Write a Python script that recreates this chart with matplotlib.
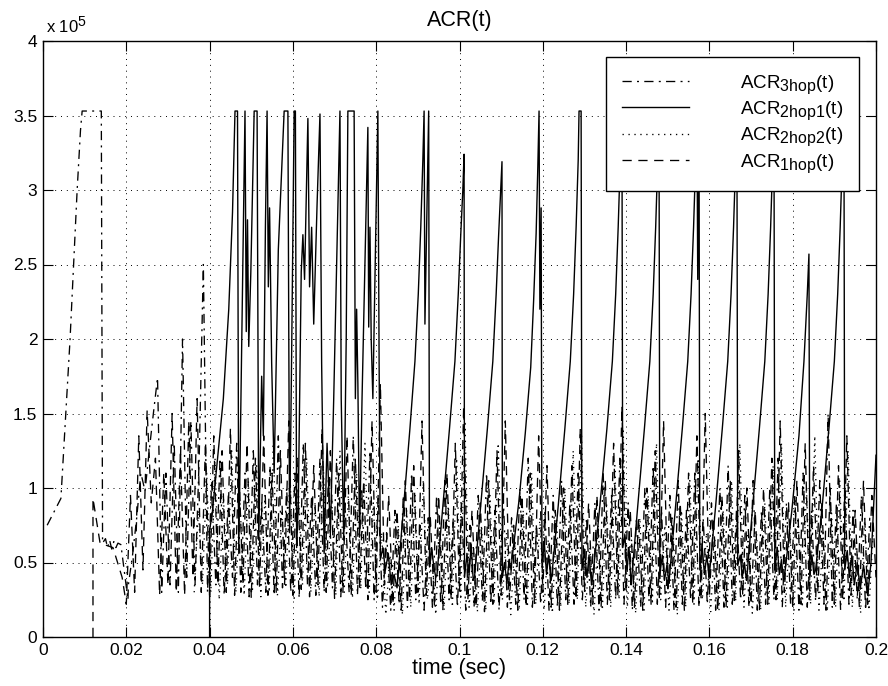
import numpy as np
import matplotlib
matplotlib.use("Agg")
import matplotlib.pyplot as plt
from matplotlib.ticker import FuncFormatter
import matplotlib._mathtext as _mt

_mt.SHRINK_FACTOR = 0.85  # larger sub/superscripts, as in the reference

plt.rcParams['font.family'] = ['Liberation Sans', 'DejaVu Sans']
plt.rcParams['mathtext.fontset'] = 'custom'
plt.rcParams['mathtext.rm'] = 'Liberation Sans'
plt.rcParams['mathtext.it'] = 'Liberation Sans:italic'

# ---------------- data (values in units of 1e5) ----------------
x_ticks = [0, 0.02, 0.04, 0.06, 0.08, 0.1, 0.12, 0.14, 0.16, 0.18, 0.2]
y_ticks = [0, 0.5, 1, 1.5, 2, 2.5, 3, 3.5, 4]
labels = [r'ACR$_{\mathrm{3hop}}$(t)', r'ACR$_{\mathrm{2hop1}}$(t)',
          r'ACR$_{\mathrm{2hop2}}$(t)', r'ACR$_{\mathrm{1hop}}$(t)']

# ACR_3hop : early explicit part
acr3hop_early_t = [0.0010, 0.0043, 0.0065, 0.0082, 0.0090, 0.0094, 0.0140, 0.0143,
                   0.0150, 0.0155, 0.0160, 0.0165, 0.0170, 0.0175, 0.0180, 0.0187, 0.0204]
acr3hop_early_v = [0.75, 0.93, 2.00, 3.00, 3.40, 3.53, 3.53, 0.63,
                   0.66, 0.60, 0.65, 0.59, 0.64, 0.60, 0.63, 0.62, 0.25]
# ACR_3hop : sampled every 1 ms starting at 20.5 ms
acr3hop_start = 0.0205
acr3hop_v = [0.35, 0.55, 0.80, 1.10, 0.98, 1.25, 1.50, 1.74, 0.30,
             1.10, 0.35, 1.30, 0.30, 2.00, 0.40, 1.45, 0.35, 1.20, 2.50,
             0.30, 1.05, 0.35, 1.20, 0.28, 0.95, 0.40, 1.30, 0.30, 1.10,
             0.27, 1.25, 0.35, 0.90, 0.30, 1.15, 0.28, 1.35, 0.33, 1.00,
             0.30, 1.10, 0.26, 1.30, 0.35, 0.95, 0.28, 1.20, 0.30, 1.05,
             0.33, 1.20, 0.27, 0.90, 0.30, 1.35, 0.28, 1.00, 0.32, 1.25,
             0.25, 0.95, 0.20, 0.70, 0.18, 0.85, 0.22, 0.95, 0.20, 1.10,
             0.25, 0.75, 0.18, 0.80, 0.20, 0.95, 0.22, 1.05, 0.25, 0.80,
             0.20, 0.90, 0.18, 0.75, 0.20, 0.95, 0.24, 1.10, 0.22, 0.85,
             0.18, 0.95, 0.20, 0.80, 0.22, 1.00, 0.25, 1.20, 0.20, 0.75,
             0.22, 0.85, 0.18, 0.95, 0.20, 1.05, 0.25, 0.90, 0.22, 1.10,
             0.25, 0.80, 0.20, 0.90, 0.18, 1.10, 0.22, 0.95, 0.25, 1.20,
             0.22, 0.90, 0.18, 0.80, 0.20, 1.00, 0.24, 1.15, 0.22, 0.85,
             0.20, 0.95, 0.18, 1.05, 0.22, 0.85, 0.25, 1.10, 0.20, 0.80,
             0.22, 0.90, 0.18, 1.00, 0.20, 1.15, 0.22, 0.85, 0.25, 0.95,
             0.20, 1.05, 0.18, 0.85, 0.22, 1.00, 0.25, 1.20, 0.20, 0.90,
             0.22, 0.95, 0.18, 1.10, 0.20, 0.85, 0.24, 1.05, 0.22, 1.50,
             0.20, 0.90, 0.18, 1.00, 0.22, 0.85, 0.25, 0.95, 0.18, 0.80]

# ACR_1hop : early explicit part
acr1hop_early_t = [0.0120, 0.0120, 0.0137, 0.0168, 0.0190, 0.0200]
acr1hop_early_v = [0.00, 0.93, 0.63, 0.60, 0.40, 0.22]
# ACR_1hop : sampled every 1 ms starting at 21 ms
acr1hop_start = 0.021
acr1hop_v = [0.95, 0.30, 1.35, 0.45, 1.52, 0.90, 1.20, 0.28, 1.10,
             0.35, 1.50, 0.30, 1.25, 0.28, 1.45, 0.40, 1.60, 0.30, 1.30,
             0.28, 1.35, 0.35, 1.25, 0.30, 1.40, 0.28, 1.15, 0.35, 1.30,
             0.26, 1.20, 0.33, 1.35, 0.28, 1.10, 0.30, 1.25, 0.35, 1.45,
             0.28, 1.20, 0.32, 1.30, 0.27, 1.15, 0.35, 1.40, 0.30, 1.25,
             0.26, 1.10, 0.30, 1.35, 0.28, 1.20, 0.32, 1.05, 0.25, 1.45,
             0.30, 1.70, 0.35, 0.95, 0.22, 0.85, 0.18, 1.05, 0.25, 1.15,
             0.30, 1.45, 0.28, 0.80, 0.20, 0.95, 0.18, 1.10, 0.25, 1.30,
             0.30, 1.55, 0.25, 0.85, 0.20, 0.90, 0.17, 1.05, 0.22, 1.25,
             0.28, 1.45, 0.25, 0.75, 0.18, 0.95, 0.20, 1.10, 0.22, 1.35,
             0.30, 1.15, 0.20, 0.85, 0.18, 1.00, 0.22, 1.15, 0.25, 1.40,
             0.30, 0.90, 0.22, 0.95, 0.20, 1.05, 0.25, 1.30, 0.28, 1.55,
             0.30, 0.85, 0.20, 0.80, 0.18, 1.00, 0.22, 1.25, 0.25, 1.45,
             0.30, 0.80, 0.20, 0.90, 0.17, 1.10, 0.22, 1.35, 0.25, 1.50,
             0.28, 0.80, 0.18, 0.95, 0.20, 1.05, 0.22, 1.25, 0.28, 1.00,
             0.22, 0.85, 0.18, 1.00, 0.22, 1.20, 0.25, 1.45, 0.30, 0.90,
             0.20, 1.05, 0.22, 1.30, 0.25, 1.15, 0.30, 0.90, 0.18, 1.00,
             0.22, 1.15, 0.25, 1.35, 0.28, 0.85, 0.20, 1.05, 0.22, 0.95,
             0.40]

# ACR_2hop2 : sampled every 1 ms starting at 36.3 ms
acr2hop2_start = 0.0363
acr2hop2_v = [0.30, 0.85, 0.35, 1.10,
              0.30, 1.20, 0.25, 0.95, 0.35, 1.25, 0.30, 0.90, 0.28, 1.05,
              0.32, 1.15, 0.27, 0.95, 0.30, 1.30, 0.28, 0.85, 0.33, 1.10,
              0.26, 1.00, 0.35, 1.20, 0.30, 0.90, 0.27, 1.15, 0.33, 0.95,
              0.28, 1.25, 0.30, 0.95, 0.26, 1.10, 0.32, 1.30, 0.30, 0.90,
              0.25, 0.70, 0.15, 0.55, 0.18, 0.75, 0.15, 0.85, 0.20, 0.95,
              0.22, 1.05, 0.25, 0.60, 0.15, 0.75, 0.18, 0.90, 0.20, 1.20,
              0.25, 1.45, 0.20, 0.60, 0.17, 0.75, 0.18, 0.95, 0.22, 1.30,
              0.25, 0.70, 0.15, 0.65, 0.18, 0.85, 0.20, 1.10, 0.22, 0.80,
              0.18, 0.65, 0.16, 0.80, 0.20, 1.00, 0.22, 1.25, 0.25, 1.35,
              0.20, 0.60, 0.15, 0.75, 0.18, 0.90, 0.20, 1.15, 0.25, 1.40,
              0.20, 0.65, 0.16, 0.80, 0.18, 0.95, 0.22, 1.30, 0.25, 0.75,
              0.18, 0.70, 0.15, 0.85, 0.20, 1.05, 0.22, 1.20, 0.25, 0.70,
              0.17, 0.65, 0.18, 0.85, 0.20, 1.05, 0.24, 1.30, 0.20, 0.70,
              0.16, 0.70, 0.18, 0.90, 0.22, 1.15, 0.25, 1.30, 0.20, 0.75,
              0.18, 0.80, 0.20, 1.00, 0.22, 1.35, 0.18, 0.70, 0.17, 0.85,
              0.20, 1.05, 0.24, 1.25, 0.20, 0.65, 0.16, 0.80, 0.18, 0.70]

# ACR_2hop1 : (time, value) points
acr2hop1_transient = [
    (0.0400, 0.00), (0.0400, 0.72), (0.0406, 0.82), (0.0433, 1.60), (0.0446, 2.20),
    (0.0455, 2.85), (0.0461, 3.53), (0.0467, 3.53), (0.0470, 0.56), (0.0477, 1.95),
    (0.0485, 3.53), (0.0488, 2.05), (0.0491, 2.80), (0.0494, 1.95), (0.0499, 2.45),
    (0.0507, 3.53), (0.0514, 3.53), (0.0518, 0.65), (0.0525, 1.75), (0.0529, 1.35),
    (0.0534, 2.75), (0.0538, 3.53), (0.0541, 2.35), (0.0544, 2.88), (0.0549, 1.84),
    (0.0555, 1.10), (0.0565, 2.60), (0.0579, 3.53), (0.0588, 3.53), (0.0592, 0.70),
    (0.0597, 1.90), (0.0603, 3.53), (0.0606, 3.53), (0.0609, 0.60), (0.0613, 0.90),
    (0.0620, 2.45), (0.0624, 2.70), (0.0628, 2.40), (0.0636, 3.48), (0.0640, 2.35),
    (0.0645, 2.75), (0.0650, 2.10), (0.0658, 2.90), (0.0665, 3.51), (0.0669, 1.84),
    (0.0675, 0.56), (0.0682, 1.30), (0.0690, 0.70), (0.0698, 1.60), (0.0713, 3.53),
    (0.0716, 1.60), (0.0722, 0.65), (0.0728, 2.00), (0.0732, 3.53), (0.0747, 3.53),
    (0.0750, 1.60), (0.0753, 2.20), (0.0756, 1.70), (0.0760, 0.67), (0.0766, 1.60),
    (0.0780, 3.42), (0.0782, 2.08), (0.0785, 2.75), (0.0788, 2.00), (0.0792, 1.60),
    (0.0804, 3.53), (0.0807, 1.84), (0.0810, 0.52)]
acr2hop1_periodic = [
    (0.0816, 0.60), (0.0822, 0.45), (0.0829, 0.56), (0.0836, 0.35), (0.0843, 0.42),
    (0.0850, 0.33), (0.0866, 0.88), (0.0881, 1.40), (0.0893, 1.85), (0.0901, 2.30),
    (0.0907, 2.75), (0.0912, 3.20), (0.0915, 3.53), (0.0917, 2.10), (0.0922, 2.90),
    (0.0926, 3.53), (0.0928, 0.47),
    (0.0933, 0.60), (0.0938, 0.48), (0.0943, 0.40),
    (0.0946, 0.42), (0.0960, 0.88), (0.0976, 1.40), (0.0989, 1.85), (0.0997, 2.30),
    (0.1003, 2.70), (0.1008, 3.00), (0.1011, 3.24), (0.1012, 0.40),
    (0.1018, 0.55), (0.1023, 0.42), (0.1028, 0.62), (0.1033, 0.38),
    (0.1036, 0.40), (0.1051, 0.88), (0.1067, 1.40), (0.1080, 1.85), (0.1088, 2.30),
    (0.1094, 2.70), (0.1099, 3.00), (0.1102, 3.19), (0.1103, 0.40),
    (0.1108, 0.50), (0.1114, 0.36), (0.1119, 0.52), (0.1124, 0.45),
    (0.1126, 0.52), (0.1143, 0.92), (0.1158, 1.37), (0.1171, 1.81), (0.1178, 2.26),
    (0.1184, 2.71), (0.1188, 3.15), (0.1191, 3.53), (0.1193, 2.20), (0.1196, 2.88),
    (0.1198, 0.50),
    (0.1204, 0.62), (0.1209, 0.42), (0.1214, 0.55), (0.1220, 0.38),
    (0.1222, 0.42), (0.1237, 0.88), (0.1253, 1.40), (0.1266, 1.85), (0.1274, 2.30),
    (0.1280, 2.75), (0.1285, 3.20), (0.1287, 3.53), (0.1292, 3.53), (0.1294, 0.45),
    (0.1300, 0.58), (0.1306, 0.40), (0.1311, 0.55), (0.1317, 0.35),
    (0.1320, 0.40), (0.1337, 0.88), (0.1354, 1.40), (0.1367, 1.85), (0.1375, 2.30),
    (0.1381, 2.75), (0.1386, 3.20), (0.1390, 3.53), (0.1392, 0.60),
    (0.1397, 0.68), (0.1402, 0.45), (0.1407, 0.60), (0.1412, 0.35),
    (0.1413, 0.38), (0.1428, 0.88), (0.1444, 1.40), (0.1457, 1.85), (0.1465, 2.30),
    (0.1471, 2.75), (0.1476, 3.20), (0.1479, 3.53), (0.1481, 0.42),
    (0.1487, 0.55), (0.1492, 0.38), (0.1498, 0.48), (0.1503, 0.36),
    (0.1504, 0.40), (0.1519, 0.88), (0.1535, 1.40), (0.1548, 1.85), (0.1556, 2.30),
    (0.1562, 2.75), (0.1567, 3.20), (0.1570, 3.53), (0.1572, 2.40), (0.1575, 3.53),
    (0.1577, 0.45),
    (0.1583, 0.60), (0.1588, 0.42), (0.1594, 0.55), (0.1599, 0.40),
    (0.1600, 0.42), (0.1615, 0.88), (0.1631, 1.40), (0.1644, 1.85), (0.1652, 2.30),
    (0.1658, 2.75), (0.1663, 3.20), (0.1666, 3.53), (0.1668, 0.48),
    (0.1674, 0.55), (0.1679, 0.40), (0.1684, 0.50), (0.1689, 0.38),
    (0.1690, 0.40), (0.1704, 0.88), (0.1720, 1.40), (0.1733, 1.85), (0.1741, 2.30),
    (0.1747, 2.75), (0.1752, 3.20), (0.1755, 3.53), (0.1757, 0.45),
    (0.1763, 0.60), (0.1768, 0.42), (0.1773, 0.52), (0.1778, 0.38),
    (0.1780, 0.40), (0.1798, 0.85), (0.1815, 1.35), (0.1827, 1.85), (0.1835, 2.30),
    (0.1839, 2.57), (0.1841, 0.40),
    (0.1846, 0.55), (0.1851, 0.42),
    (0.1855, 0.45), (0.1871, 0.88), (0.1887, 1.40), (0.1900, 1.85), (0.1908, 2.30),
    (0.1914, 2.75), (0.1919, 3.20), (0.1923, 3.53), (0.1925, 0.45),
    (0.1931, 0.58), (0.1936, 0.40), (0.1942, 0.55), (0.1948, 0.35), (0.1955, 0.50),
    (0.1962, 0.32), (0.1970, 0.48), (0.1980, 0.28), (0.1988, 0.50), (0.2000, 1.22)]

# ---------------- assemble series ----------------
t3 = np.concatenate([acr3hop_early_t, acr3hop_start + 0.001 * np.arange(len(acr3hop_v))])
v3 = np.concatenate([acr3hop_early_v, acr3hop_v])
t1 = np.concatenate([acr1hop_early_t, acr1hop_start + 0.001 * np.arange(len(acr1hop_v))])
v1 = np.concatenate([acr1hop_early_v, acr1hop_v])
t22 = acr2hop2_start + 0.001 * np.arange(len(acr2hop2_v))
v22 = np.array(acr2hop2_v)
pts = acr2hop1_transient + acr2hop1_periodic
t21 = np.array([p[0] for p in pts])
v21 = np.array([p[1] for p in pts])

# ---------------- figure ----------------
fig = plt.figure(figsize=(8.88, 6.86), dpi=100)
ax = fig.add_axes([43 / 888, 1 - 637 / 686, (876 - 43) / 888, (637 - 41) / 686])

lw = 1.0
l3, = ax.plot(t3, v3, color='k', lw=0.95, linestyle=(0, (7, 4, 1.5, 4)), label=labels[0])
l22, = ax.plot(t22, v22, color='k', lw=0.95, linestyle=(0, (1, 3.5)), label=labels[2])
l1, = ax.plot(t1, v1, color='k', lw=0.95, linestyle=(0, (7, 5)), label=labels[3])
l21, = ax.plot(t21, v21, color='k', lw=lw, linestyle='-', label=labels[1])

ax.set_xlim(0, 0.2)
ax.set_ylim(0, 4)
ax.set_xticks(x_ticks)
ax.set_yticks(y_ticks)
fmt = FuncFormatter(lambda v, p: '%g' % v)
ax.xaxis.set_major_formatter(fmt)
ax.yaxis.set_major_formatter(fmt)
ax.tick_params(direction='in', top=True, right=True, length=7, width=0.8,
               labelsize=12.5, pad=4)
ax.tick_params(axis='y', pad=4)
for s in ax.spines.values():
    s.set_linewidth(1.0)
ax.grid(True, color='k', linestyle=(0, (1, 5)), linewidth=0.7)
ax.set_axisbelow(True)

ax.set_title('ACR(t)', fontsize=15.5, pad=11)
ax.set_xlabel('time (sec)', fontsize=15.5, labelpad=0)
ax.text(0.004, 1.008, r'x 10$^{5}$', transform=ax.transAxes, fontsize=12,
        ha='left', va='bottom')

leg = ax.legend(handles=[l3, l21, l22, l1], loc='upper right',
                bbox_to_anchor=(0.980, 0.973), fontsize=13.5, frameon=True,
                fancybox=False, shadow=False, handlelength=3.57,
                handletextpad=2.75, borderpad=0.85, labelspacing=0.2,
                borderaxespad=0.0)
leg.get_frame().set_edgecolor('k')
leg.get_frame().set_linewidth(1.0)
leg.get_frame().set_alpha(1.0)

fig.savefig('out.png', dpi=100)
